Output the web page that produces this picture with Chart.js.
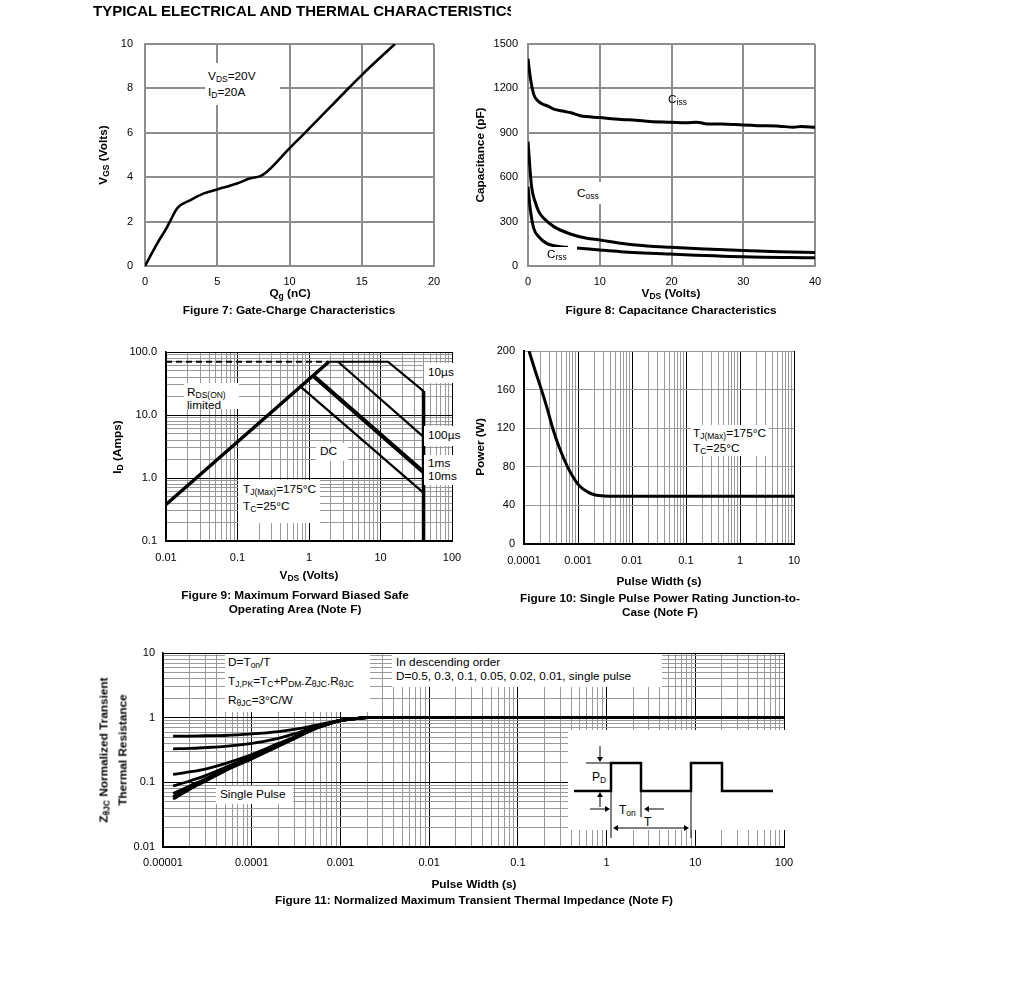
<!DOCTYPE html>
<html><head><meta charset="utf-8">
<script src="https://cdn.jsdelivr.net/npm/chart.js@4.4.1/dist/chart.umd.min.js"></script>
<style>
body{margin:0;background:#fff;width:1020px;height:992px;position:relative;overflow:hidden;font-family:"Liberation Sans",Arial,sans-serif;color:#000}
canvas{position:absolute;z-index:1}
.t{position:absolute;white-space:nowrap;font-size:11.8px;line-height:1;z-index:5}
.b{font-weight:bold}
.c{transform:translate(-50%,-50%)}
.r{transform:translate(-50%,-50%) rotate(-90deg)}
.box{position:absolute;background:#fff;z-index:4;overflow:hidden;font-size:11.8px;white-space:nowrap}
.box div{position:absolute;line-height:13px}
.s{font-size:72%;position:relative;top:0.28em}
</style></head><body>
<div class="t b" style="left:93px;top:3px;font-size:15px;width:418px;overflow:hidden">TYPICAL ELECTRICAL AND THERMAL CHARACTERISTICS</div>

<canvas id="fig7"></canvas><canvas id="fig8"></canvas><canvas id="fig9"></canvas><canvas id="fig10"></canvas><canvas id="fig11"></canvas>

<!-- Figure 7 texts -->
<div class="t b r" style="left:104px;top:155px">V<span class="s">GS</span> (Volts)</div>
<div class="t b c" style="left:290px;top:294px">Q<span class="s">g</span> (nC)</div>
<div class="t b c" style="left:289px;top:311px">Figure 7: Gate-Charge Characteristics</div>
<div class="box" style="left:205px;top:63px;width:75px;height:42px"><div style="left:3px;top:7px">V<span class="s">DS</span>=20V</div><div style="left:3px;top:23px">I<span class="s">D</span>=20A</div></div>

<!-- Figure 8 texts -->
<div class="t b r" style="left:481px;top:155px">Capacitance (pF)</div>
<div class="t b c" style="left:671px;top:294px">V<span class="s">DS</span> (Volts)</div>
<div class="t b c" style="left:671px;top:311px">Figure 8: Capacitance Characteristics</div>
<div class="t" style="left:668px;top:94px">C<span class="s">iss</span></div>
<div class="box" style="left:574px;top:182px;width:28px;height:22px"><div style="left:3px;top:5px">C<span class="s">oss</span></div></div>
<div class="box" style="left:544px;top:247px;width:24px;height:17px"><div style="left:3px;top:1px">C<span class="s">rss</span></div></div>
<div class="box" style="left:568px;top:243px;width:9px;height:21px"></div>

<!-- Figure 9 texts -->
<div class="t b r" style="left:118px;top:447px">I<span class="s">D</span> (Amps)</div>
<div class="t b c" style="left:309px;top:576px">V<span class="s">DS</span> (Volts)</div>
<div class="t b c" style="left:295px;top:596px">Figure 9: Maximum Forward Biased Safe</div>
<div class="t b c" style="left:295px;top:610px">Operating Area (Note F)</div>
<div class="box" style="left:184px;top:383px;width:55px;height:26px"><div style="left:3px;top:3px">R<span class="s">DS(ON)</span></div><div style="left:3px;top:16px">limited</div></div>
<div class="box" style="left:316px;top:443px;width:32px;height:18px"><div style="left:4px;top:2px">DC</div></div>
<div class="box" style="left:238px;top:480px;width:82px;height:43px"><div style="left:5px;top:3px">T<span class="s">J(Max)</span>=175°C</div><div style="left:5px;top:20px">T<span class="s">C</span>=25°C</div></div>
<div class="box" style="left:424px;top:363px;width:34px;height:20px"><div style="left:4px;top:3px">10µs</div></div>
<div class="box" style="left:424px;top:426px;width:40px;height:20px"><div style="left:4px;top:3px">100µs</div></div>
<div class="box" style="left:424px;top:455px;width:38px;height:30px"><div style="left:4px;top:2px">1ms</div><div style="left:4px;top:15px">10ms</div></div>

<!-- Figure 10 texts -->
<div class="t b r" style="left:481px;top:447px">Power (W)</div>
<div class="t b c" style="left:659px;top:582px">Pulse Width (s)</div>
<div class="t b c" style="left:660px;top:599px">Figure 10: Single Pulse Power Rating Junction-to-</div>
<div class="t b c" style="left:660px;top:613px">Case (Note F)</div>
<div class="box" style="left:691px;top:425px;width:78px;height:31px"><div style="left:2px;top:2px">T<span class="s">J(Max)</span>=175°C</div><div style="left:2px;top:17px">T<span class="s">C</span>=25°C</div></div>

<!-- Figure 11 texts -->
<div class="t b r" style="left:113px;top:750px;line-height:18px;text-align:center">Z<span class="s">θJC</span> Normalized Transient<br>Thermal Resistance</div>
<div class="t b c" style="left:474px;top:885px">Pulse Width (s)</div>
<div class="t b c" style="left:474px;top:901px">Figure 11: Normalized Maximum Transient Thermal Impedance (Note F)</div>
<div class="box" style="left:225px;top:654px;width:145px;height:58px"><div style="left:3px;top:2px">D=T<span class="s">on</span>/T</div><div style="left:3px;top:21px">T<span class="s">J,PK</span>=T<span class="s">C</span>+P<span class="s">DM</span>.Z<span class="s">θJC</span>.R<span class="s">θJC</span></div><div style="left:3px;top:40px">R<span class="s">θJC</span>=3°C/W</div></div>
<div class="box" style="left:392px;top:654px;width:270px;height:33px"><div style="left:4px;top:2px">In descending order</div><div style="left:4px;top:16px">D=0.5, 0.3, 0.1, 0.05, 0.02, 0.01, single pulse</div></div>
<div class="box" style="left:216px;top:786px;width:77px;height:18px"><div style="left:4px;top:2px">Single Pulse</div></div>
<svg style="position:absolute;left:568px;top:730px;z-index:4" width="217" height="112" xmlns="http://www.w3.org/2000/svg">
<rect x="0" y="0" width="217" height="100" fill="#fff"/>
<polyline points="6,61 43,61 43,33 73,33 73,61 123,61 123,33 154,33 154,61 205,61" fill="none" stroke="#000" stroke-width="2.5"/>
<line x1="18" y1="33" x2="43" y2="33" stroke="#000" stroke-width="1"/>
<line x1="32" y1="16" x2="32" y2="28" stroke="#000" stroke-width="1"/><polygon points="29,27 35,27 32,32" fill="#000"/>
<line x1="32" y1="77" x2="32" y2="66" stroke="#000" stroke-width="1"/><polygon points="29,67 35,67 32,62" fill="#000"/>
<line x1="43" y1="61" x2="43" y2="108" stroke="#000" stroke-width="1"/>
<line x1="123" y1="61" x2="123" y2="108" stroke="#000" stroke-width="1"/>
<line x1="73" y1="61" x2="73" y2="87" stroke="#000" stroke-width="1"/>
<line x1="22" y1="79" x2="38" y2="79" stroke="#000" stroke-width="1"/><polygon points="37,76 37,82 42,79" fill="#000"/>
<line x1="96" y1="79" x2="80" y2="79" stroke="#000" stroke-width="1"/><polygon points="81,76 81,82 76,79" fill="#000"/>
<line x1="49" y1="98" x2="117" y2="98" stroke="#000" stroke-width="1"/><polygon points="50,95 50,101 45,98" fill="#000"/><polygon points="116,95 116,101 121,98" fill="#000"/>
<text x="24" y="51" font-family="Liberation Sans, Arial, sans-serif" font-size="12">P<tspan font-size="8.5" dy="2">D</tspan></text>
<text x="51" y="84" font-family="Liberation Sans, Arial, sans-serif" font-size="12">T<tspan font-size="8.5" dy="2">on</tspan></text>
<text x="76" y="96" font-family="Liberation Sans, Arial, sans-serif" font-size="12">T</text>
</svg>

<script>
// ---------- DATA ----------
// Figure 7: gate charge
const fig7Qg  = [0, 0.85, 1.5, 1.78, 2.23, 3.15, 4.07, 5.0, 6.37, 7.29, 7.98, 8.44, 10.0, 11.0, 12.0, 13.0, 14.0, 15.0, 16.0, 17.3];
const fig7Vgs = [0, 1.02, 1.72, 2.07, 2.6, 2.97, 3.27, 3.45, 3.72, 3.95, 4.05, 4.25, 5.3, 5.95, 6.62, 7.28, 7.95, 8.6, 9.22, 10.0];
const fig7XTicks = [0, 5, 10, 15, 20];
const fig7XLabels = ['0', '5', '10', '15', '20'];
const fig7YTicks = [0, 2, 4, 6, 8, 10];
const fig7YLabels = ['0', '2', '4', '6', '8', '10'];

// Figure 8: capacitance
const fig8CissV = [0, 0.3, 0.8, 1.3, 2, 2.8, 3.6, 5, 6, 7.3, 10, 13, 15, 17, 20, 22, 23.5, 25, 27, 30, 32, 35, 37, 38, 40];
const fig8Ciss  = [1400, 1280, 1160, 1120, 1095, 1080, 1060, 1045, 1035, 1015, 1003, 990, 985, 977, 972, 968, 972, 960, 960, 952, 948, 945, 938, 942, 937];
const fig8CossV = [0, 0.5, 1.0, 1.5, 2.2, 3.6, 5.9, 8.2, 10, 12.9, 16.6, 19.9, 24.6, 30, 35, 40];
const fig8Coss  = [840, 536, 434, 367, 322, 266, 216, 187, 176, 153, 135, 126, 115, 104, 97, 92];
const fig8CrssV = [0, 0.33, 0.8, 1.5, 2.6, 4.5, 6.7, 10, 12.9, 19.9, 30, 40];
const fig8Crss  = [536, 378, 254, 198, 153, 131, 122, 108, 97, 81, 63, 56];
const fig8XTicks = [0, 10, 20, 30, 40];
const fig8XLabels = ['0', '10', '20', '30', '40'];
const fig8YTicks = [0, 300, 600, 900, 1200, 1500];
const fig8YLabels = ['0', '300', '600', '900', '1200', '1500'];

// Figure 9: safe operating area
const fig9RdsV = [0.01, 1.9];     const fig9RdsI = [0.38, 70];
const fig9LimV = [0.01, 1.9];     const fig9LimI = [70, 70];
const fig9Us10V = [1.9, 12.7, 40]; const fig9Us10I = [70, 70, 24];
const fig9Us100V = [2.55, 40];    const fig9Us100I = [70, 4.5];
const fig9Ms1V = [1.17, 40];      const fig9Ms1I = [43, 1.3];
const fig9Ms10V = [1.12, 40];     const fig9Ms10I = [41, 1.18];
const fig9DcV = [0.77, 40];       const fig9DcI = [28, 0.58];
const fig9VmaxV = [40, 40];       const fig9VmaxI = [24, 0.1];
const fig9XLabels = ['0.01', '0.1', '1', '10', '100'];
const fig9YLabels = ['0.1', '1.0', '10.0', '100.0'];

// Figure 10: single pulse power
const fig10T = [0.000124, 0.00016, 0.00021, 0.00027, 0.00034, 0.00045, 0.00064, 0.0008, 0.00107, 0.0015, 0.002, 0.003, 0.005, 0.01, 0.1, 1, 10];
const fig10P = [200, 180, 160, 140, 120, 100, 80, 70, 60, 54, 51, 49.7, 49.5, 49.5, 49.5, 49.5, 49.5];
const fig10XLabels = ['0.0001', '0.001', '0.01', '0.1', '1', '10'];
const fig10YTicks = [0, 40, 80, 120, 160, 200];
const fig10YLabels = ['0', '40', '80', '120', '160', '200'];

// Figure 11: transient thermal impedance
const fig11T = [1.3e-5, 2e-5, 3e-5, 5e-5, 1e-4, 2e-4, 3e-4, 5e-4, 7e-4, 1e-3, 1.5e-3, 2e-3, 1e-2, 1e-1, 1, 10, 100];
const fig11D05  = [0.52, 0.52, 0.525, 0.53, 0.56, 0.61, 0.66, 0.75, 0.82, 0.92, 0.97, 1, 1, 1, 1, 1, 1];
const fig11D03  = [0.33, 0.335, 0.345, 0.36, 0.40, 0.48, 0.56, 0.71, 0.80, 0.91, 0.97, 1, 1, 1, 1, 1, 1];
const fig11D01  = [0.133, 0.145, 0.16, 0.195, 0.27, 0.40, 0.50, 0.69, 0.79, 0.91, 0.97, 1, 1, 1, 1, 1, 1];
const fig11D005 = [0.088, 0.105, 0.127, 0.17, 0.255, 0.385, 0.49, 0.68, 0.79, 0.91, 0.97, 1, 1, 1, 1, 1, 1];
const fig11D002 = [0.067, 0.088, 0.113, 0.16, 0.245, 0.375, 0.485, 0.67, 0.78, 0.90, 0.97, 1, 1, 1, 1, 1, 1];
const fig11D001 = [0.060, 0.082, 0.108, 0.155, 0.24, 0.37, 0.48, 0.665, 0.78, 0.90, 0.97, 1, 1, 1, 1, 1, 1];
const fig11Single = [0.055, 0.078, 0.104, 0.15, 0.23, 0.36, 0.47, 0.66, 0.78, 0.90, 0.97, 1, 1, 1, 1, 1, 1];
const fig11XLabels = ['0.00001', '0.0001', '0.001', '0.01', '0.1', '1', '10', '100'];
const fig11YLabels = ['0.01', '0.1', '1', '10'];

// ---------- HELPERS ----------
const FONT = '"Liberation Sans", Arial, sans-serif';
const BLACK = '#000', GRIDGRAY = '#8d8d8d', MINOR = '#999999';
const isDecade = v => { const l = Math.log10(v); return Math.abs(l - Math.round(l)) < 1e-9; };
function logGrid(min, max) {
  const out = [];
  for (let k = Math.round(Math.log10(min)); k <= Math.round(Math.log10(max)); k++)
    for (let m = 1; m <= 9; m++) {
      const v = Number((m * Math.pow(10, k)).toPrecision(8));
      if (v >= min * 0.999999 && v <= max * 1.000001) out.push(v);
    }
  return out;
}
function linAxis(pos, min, max, vals, labels, pad, gcol, gw, bcol, bw) {
  return { type: 'linear', position: pos, min, max,
    afterBuildTicks: s => { s.ticks = vals.map(v => ({ value: v })); },
    ticks: { autoSkip: false, maxRotation: 0, minRotation: 0, padding: pad, color: BLACK,
      font: { family: FONT, size: 11 }, callback: (v, i) => labels[i] },
    grid: { color: gcol, lineWidth: gw, drawTicks: false },
    border: { color: bcol, width: bw } };
}
function logAxis(pos, min, max, labels, pad, bw) {
  const vals = logGrid(min, max);
  return { type: 'logarithmic', position: pos, min, max,
    afterBuildTicks: s => { s.ticks = vals.map(v => ({ value: v })); },
    ticks: { autoSkip: false, maxRotation: 0, minRotation: 0, padding: pad, color: BLACK,
      font: { family: FONT, size: 11 },
      callback: v => isDecade(v) ? labels[Math.round(Math.log10(v) - Math.log10(min))] : '' },
    grid: { color: c => (c.tick && isDecade(c.tick.value)) ? BLACK : MINOR, lineWidth: 1, drawTicks: false },
    border: { color: BLACK, width: bw } };
}
function ds(xs, ys, w, extra) {
  return Object.assign({ data: xs.map((x, i) => ({ x, y: ys[i] })), showLine: true, borderColor: BLACK,
    backgroundColor: BLACK, borderWidth: w, pointRadius: 0, fill: false, tension: 0 }, extra || {});
}
const L = 70, T = 28, R = 40, B = 34;
function mk(id, area, datasets, xs, ys) {
  const cv = document.getElementById(id);
  cv.width = area.w + L + R; cv.height = area.h + T + B;
  cv.style.left = (area.x - L) + 'px'; cv.style.top = (area.y - T) + 'px';
  xs.afterFit = s => { s.height = B; };
  ys.afterFit = s => { s.width = L; };
  new Chart(cv, { type: 'scatter', data: { datasets },
    options: { responsive: false, animation: false, devicePixelRatio: 1,
      layout: { padding: { left: 0, top: T, right: R, bottom: 0 } },
      plugins: { legend: { display: false }, tooltip: { enabled: false } },
      scales: { x: xs, y: ys } } });
}
const mono = { cubicInterpolationMode: 'monotone' };

// ---------- CHARTS ----------
mk('fig7', { x: 145, y: 44, w: 289, h: 222 },
  [ds(fig7Qg, fig7Vgs, 2.6, mono)],
  linAxis('bottom', 0, 20, fig7XTicks, fig7XLabels, 9, GRIDGRAY, 2, GRIDGRAY, 2),
  linAxis('left', 0, 10, fig7YTicks, fig7YLabels, 12, GRIDGRAY, 2, GRIDGRAY, 2));

mk('fig8', { x: 528, y: 44, w: 287, h: 222 },
  [ds(fig8CissV, fig8Ciss, 3, mono), ds(fig8CossV, fig8Coss, 3, mono), ds(fig8CrssV, fig8Crss, 3, mono)],
  linAxis('bottom', 0, 40, fig8XTicks, fig8XLabels, 9, GRIDGRAY, 2, GRIDGRAY, 2),
  linAxis('left', 0, 1500, fig8YTicks, fig8YLabels, 10, GRIDGRAY, 2, GRIDGRAY, 2));

mk('fig9', { x: 166, y: 352, w: 286, h: 189 },
  [ds(fig9LimV, fig9LimI, 2, { borderDash: [6, 4] }),
   ds(fig9RdsV, fig9RdsI, 3.5),
   ds(fig9Us10V, fig9Us10I, 2.2),
   ds(fig9Us100V, fig9Us100I, 2.2),
   ds(fig9Ms1V, fig9Ms1I, 2.4),
   ds(fig9Ms10V, fig9Ms10I, 2.4),
   ds(fig9DcV, fig9DcI, 2.2),
   ds(fig9VmaxV, fig9VmaxI, 3.5)],
  logAxis('bottom', 0.01, 100, fig9XLabels, 10, 2),
  logAxis('left', 0.1, 100, fig9YLabels, 9, 1.5));

mk('fig10', { x: 524, y: 351, w: 270, h: 193 }, [ds(fig10T, fig10P, 3, mono)],
  logAxis('bottom', 0.0001, 10, fig10XLabels, 10, 2),
  linAxis('left', 0, 200, fig10YTicks, fig10YLabels, 9, MINOR, 1, BLACK, 2));

mk('fig11', { x: 163, y: 653, w: 621, h: 194 },
  [ds(fig11T, fig11D05, 2.8, mono), ds(fig11T, fig11D03, 2.8, mono), ds(fig11T, fig11D01, 2.8, mono),
   ds(fig11T, fig11D005, 2.8, mono), ds(fig11T, fig11D002, 2.8, mono), ds(fig11T, fig11D001, 2.8, mono),
   ds(fig11T, fig11Single, 2.8, mono)],
  logAxis('bottom', 0.00001, 100, fig11XLabels, 9, 2),
  logAxis('left', 0.01, 10, fig11YLabels, 8, 1.5));
</script>
</body></html>
